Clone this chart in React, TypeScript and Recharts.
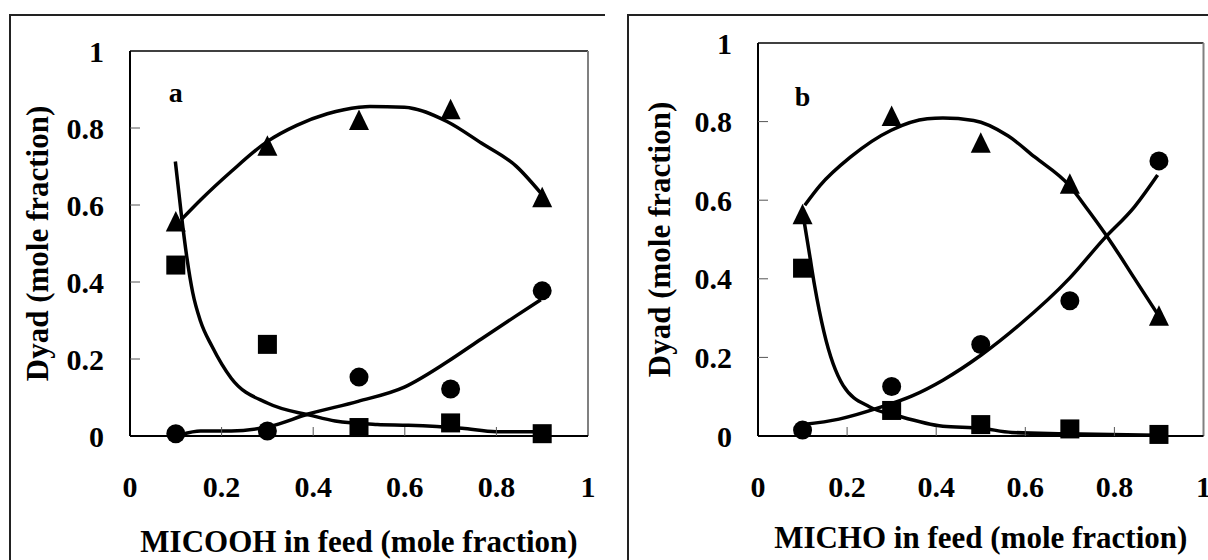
import React from 'react';
import { ScatterChart, Scatter, XAxis, YAxis, ReferenceLine, ReferenceDot } from 'recharts';

const FONT = 'Liberation Serif, DejaVu Serif, serif';
const textStyle = { fontFamily: FONT, fontWeight: 700 } as const;

// shared axis ticks
const tickValues = [0, 0.2, 0.4, 0.6, 0.8, 1];
const tickLabels = ['0', '0.2', '0.4', '0.6', '0.8', '1'];

// feed composition (x) of measured points
const feed = [0.1, 0.3, 0.5, 0.7, 0.9];

// Panel a – MICOOH
const aTriangle = [0.557, 0.754, 0.821, 0.849, 0.62];
const aSquare = [0.444, 0.238, 0.022, 0.034, 0.006];
const aCircle = [0.006, 0.013, 0.153, 0.122, 0.377];
const aTriangleFit = [[0.112, 0.562], [0.154, 0.613], [0.221, 0.687], [0.301, 0.766], [0.364, 0.807], [0.431, 0.837], [0.5, 0.854], [0.524, 0.856], [0.599, 0.854], [0.692, 0.817], [0.767, 0.761], [0.843, 0.701], [0.897, 0.631]];
const aSquareFit = [[0.099, 0.713], [0.112, 0.576], [0.124, 0.465], [0.137, 0.372], [0.154, 0.298], [0.179, 0.233], [0.221, 0.15], [0.301, 0.085], [0.397, 0.053], [0.448, 0.039], [0.54, 0.03], [0.608, 0.028], [0.725, 0.02], [0.8, 0.011], [0.892, 0.011]];
const aCircleFit = [[0.112, 0.004], [0.154, 0.013], [0.221, 0.013], [0.305, 0.025], [0.389, 0.057], [0.498, 0.09], [0.599, 0.127], [0.692, 0.192], [0.767, 0.252], [0.843, 0.312], [0.897, 0.354]];

// Panel b – MICHO
const bTriangle = [0.564, 0.814, 0.746, 0.642, 0.306];
const bSquare = [0.427, 0.065, 0.029, 0.018, 0.004];
const bCircle = [0.015, 0.126, 0.233, 0.344, 0.7];
const bTriangleFit = [[0.105, 0.587], [0.139, 0.637], [0.208, 0.71], [0.299, 0.778], [0.38, 0.807], [0.415, 0.809], [0.484, 0.803], [0.561, 0.764], [0.621, 0.71], [0.699, 0.637], [0.742, 0.573], [0.793, 0.492], [0.845, 0.401], [0.897, 0.31]];
const bSquareFit = [[0.101, 0.564], [0.114, 0.474], [0.127, 0.383], [0.148, 0.265], [0.191, 0.129], [0.251, 0.074], [0.312, 0.052], [0.415, 0.025], [0.501, 0.02], [0.57, 0.009], [0.69, 0.006], [0.897, 0.002]];
const bCircleFit = [[0.101, 0.029], [0.182, 0.043], [0.277, 0.074], [0.346, 0.102], [0.415, 0.142], [0.501, 0.206], [0.587, 0.283], [0.699, 0.401], [0.776, 0.501], [0.845, 0.583], [0.897, 0.664]];

const pts = (ys: number[]) => feed.map((x, i) => ({ x, y: ys[i] }));
const curve = (p: number[][]) => p.map(([x, y]) => ({ x, y }));

const Triangle = (p: any) => (
  <polygon points={`${p.cx},${p.cy - 10.5} ${p.cx - 10},${p.cy + 10} ${p.cx + 10},${p.cy + 10}`} fill="#000" />
);
const Square = (p: any) => <rect x={p.cx - 9.5} y={p.cy - 9.5} width={19} height={19} fill="#000" />;
const Circle = (p: any) => <circle cx={p.cx} cy={p.cy} r={9.5} fill="#000" />;
const NoDot = () => <g />;

const labelOf = (v: number) => tickLabels[tickValues.indexOf(v)] ?? String(v);

const XTick = (p: any) => {
  const { x, y, payload } = p;
  return (
    <g>
      {payload.value > 0 && payload.value < 1 && (
        <line x1={x} x2={x} y1={y} y2={y - 9} stroke="#555" strokeWidth={1} />
      )}
      <text x={x} y={y + 61} textAnchor="middle" style={textStyle} fontSize={30} fill="#000">
        {labelOf(payload.value)}
      </text>
    </g>
  );
};

const YTick = (p: any) => {
  const { x, y, payload } = p;
  return (
    <g>
      {payload.value > 0 && payload.value < 1 && (
        <line x1={x} x2={x + 10} y1={y} y2={y} stroke="#555" strokeWidth={1} />
      )}
      <text x={x - 26} y={y + 10.5} textAnchor="end" style={textStyle} fontSize={30} fill="#000">
        {labelOf(payload.value)}
      </text>
    </g>
  );
};

const xTitle = (text: string, dy: number) => (props: any) => {
  const vb = props.viewBox;
  return (
    <text x={vb.x + vb.width / 2} y={vb.y + dy} textAnchor="middle" style={textStyle} fontSize={31} fill="#000">
      {text}
    </text>
  );
};

const yTitle = (text: string, dx: number) => (props: any) => {
  const vb = props.viewBox;
  const x = vb.x + vb.width - dx;
  const y = vb.y + vb.height / 2;
  return (
    <text x={x} y={y} transform={`rotate(-90 ${x} ${y})`} textAnchor="middle" style={textStyle} fontSize={31} fill="#000">
      {text}
    </text>
  );
};

const panelText = (t: string) => (p: any) => (
  <text x={p.cx} y={p.cy} textAnchor="middle" style={textStyle} fontSize={28} fill="#000">
    {t}
  </text>
);

type PanelProps = {
  margin: { top: number; right: number; bottom: number; left: number };
  xLabel: string;
  xLabelDy: number;
  yLabelDx: number;
  tag: string;
  tagY: number;
  tri: number[];
  sq: number[];
  circ: number[];
  triFit: number[][];
  sqFit: number[][];
  circFit: number[][];
};

const lineStyle = { stroke: '#000', strokeWidth: 3.5, strokeLinejoin: 'round' as const, fill: 'none' };

function Panel(props: PanelProps) {
  return (
    <ScatterChart width={604} height={560} margin={props.margin}>
      <XAxis
        type="number"
        dataKey="x"
        domain={[0, 1]}
        ticks={tickValues}
        tick={<XTick />}
        tickLine={false}
        tickSize={0}
        tickMargin={0}
        axisLine={{ stroke: '#000', strokeWidth: 2 }}
        height={124}
        interval={0}
        label={{ content: xTitle(props.xLabel, props.xLabelDy) }}
      />
      <YAxis
        type="number"
        dataKey="y"
        domain={[0, 1]}
        ticks={tickValues}
        tick={<YTick />}
        tickLine={false}
        tickSize={0}
        tickMargin={0}
        axisLine={{ stroke: '#000', strokeWidth: 2 }}
        width={100}
        interval={0}
        label={{ content: yTitle('Dyad (mole fraction)', props.yLabelDx) }}
      />
      <ReferenceLine y={1} stroke="#000" strokeWidth={1.5} />
      <ReferenceLine x={1} stroke="#808080" strokeWidth={2} />
      <ReferenceDot x={0.1} y={props.tagY} r={0} shape={panelText(props.tag)} />
      {[props.triFit, props.sqFit, props.circFit].map((c, i) => (
        <Scatter
          key={i}
          data={curve(c)}
          line={lineStyle}
          lineJointType="monotoneX"
          stroke="#000"
          strokeWidth={3.5}
          shape={<NoDot />}
          isAnimationActive={false}
        />
      ))}
      <Scatter data={pts(props.tri)} shape={<Triangle />} isAnimationActive={false} />
      <Scatter data={pts(props.sq)} shape={<Square />} isAnimationActive={false} />
      <Scatter data={pts(props.circ)} shape={<Circle />} isAnimationActive={false} />
    </ScatterChart>
  );
}

export default function App() {
  return (
    <div style={{ position: 'absolute', left: 0, top: 0, width: 1208, height: 560, background: '#fff', overflow: 'hidden' }}>
      <div style={{ position: 'absolute', left: 9, top: 14, width: 594, height: 600, borderLeft: '2px solid #222', borderTop: '2px solid #222' }} />
      <div style={{ position: 'absolute', left: 627, top: 14, width: 600, height: 600, borderLeft: '2px solid #222', borderTop: '2px solid #222' }} />
      <div style={{ position: 'absolute', left: 0, top: 0 }}>
        <Panel
          margin={{ top: 51, right: 16, bottom: 0, left: 30 }}
          xLabel="MICOOH in feed (mole fraction)"
          xLabelDy={116}
          yLabelDx={82}
          tag="a"
          tagY={0.868}
          tri={aTriangle}
          sq={aSquare}
          circ={aCircle}
          triFit={aTriangleFit}
          sqFit={aSquareFit}
          circFit={aCircleFit}
        />
      </div>
      <div style={{ position: 'absolute', left: 604, top: 0 }}>
        <Panel
          margin={{ top: 43, right: 4.5, bottom: 0, left: 54 }}
          xLabel="MICHO in feed (mole fraction)"
          xLabelDy={112}
          yLabelDx={88}
          tag="b"
          tagY={0.84}
          tri={bTriangle}
          sq={bSquare}
          circ={bCircle}
          triFit={bTriangleFit}
          sqFit={bSquareFit}
          circFit={bCircleFit}
        />
      </div>
    </div>
  );
}
